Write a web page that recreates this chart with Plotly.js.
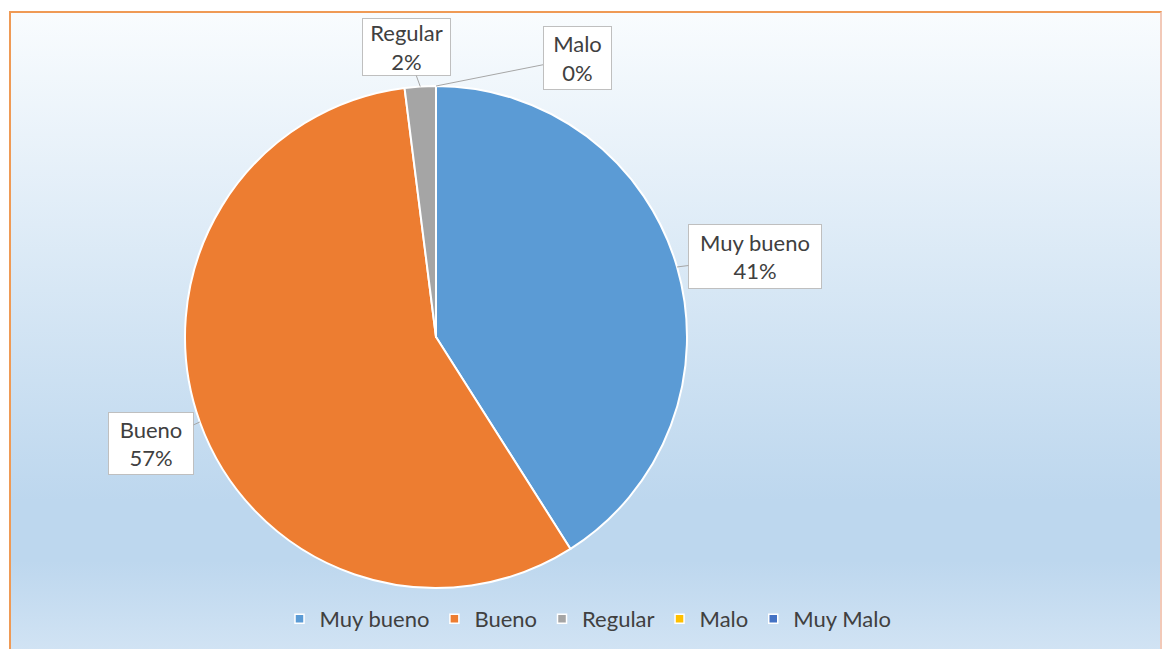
<!DOCTYPE html>
<html>
<head>
<meta charset="utf-8">
<script src="https://cdn.plot.ly/plotly-3.0.1.min.js"></script>
<style>
  html, body { margin: 0; padding: 0; background: #ffffff; width: 1163px; height: 649px; overflow: hidden; }
  #bg { position: absolute; left: 9px; top: 11px; width: 1149px; height: 660px;
        border: 2px solid #ef9a55; border-right-color: #f2c9b8;
        background: linear-gradient(to bottom, #f9fcfe 0%, #bdd7ee 74%, #bdd7ee 83%, #d6e6f5 100%); }
  #chart { position: absolute; left: 0; top: 0; width: 1163px; height: 649px; }
</style>
</head>
<body>
<div id="bg"></div>
<div id="chart"></div>
<script>
// ---- data ----
const categories = ["Muy bueno", "Bueno", "Regular", "Malo", "Muy Malo"];
const values = [41, 57, 2, 0, 0];
const colors = ["#5b9bd5", "#ed7d31", "#a5a5a5", "#ffc000", "#4472c4"];
// label box centres (pixels) for the data-label callouts shown in the chart
const labelShown = ["Muy bueno", "Bueno", "Regular", "Malo"];
const labelBoxCenter = [[755, 257], [151, 444], [406, 47], [577, 58]];
const labelBoxSize = [[134, 65], [86, 63], [89, 58], [69, 64]];

// ---- geometry ----
const W = 1163, H = 649;
const mt = 86, mb = 61;
const plotH = H - mt - mb;
const cxPx = 436;
const R = plotH / 2;
const domainX = [(cxPx - R) / W, (cxPx + R) / W];
const cyPx = mt + plotH / 2;

const total = values.reduce((a, b) => a + b, 0);
const font = "Lato, 'Open Sans', sans-serif";

const annotations = labelShown.map((lab, k) => {
  const i = categories.indexOf(lab);
  let before = 0;
  for (let j = 0; j < i; j++) before += values[j];
  const mid = (before + values[i] / 2) / total;
  const ang = mid * 2 * Math.PI;
  const px = cxPx + R * Math.sin(ang);
  const py = cyPx - R * Math.cos(ang);
  const pct = Math.round(values[i] / total * 100);
  return {
    xref: "paper", yref: "paper",
    x: px / W, y: (H - mb - py) / plotH,
    ax: labelBoxCenter[k][0] - px, ay: labelBoxCenter[k][1] - py,
    text: lab + "<br>" + pct + "%",
    showarrow: true, arrowhead: 0, arrowwidth: 1, arrowcolor: "#a6a6a6", standoff: 0,
    bgcolor: "#ffffff", bordercolor: "#bfbfbf", borderwidth: 1, borderpad: 3,
    width: labelBoxSize[k][0] - 8, height: labelBoxSize[k][1] - 8,
    font: { family: font, size: 22, color: "#404040" },
    align: "center", valign: "middle"
  };
});

const trace = {
  type: "pie",
  labels: categories,
  values: values,
  sort: false,
  direction: "clockwise",
  rotation: 0,
  textinfo: "none",
  hoverinfo: "label+percent",
  marker: { colors: colors, line: { color: "#ffffff", width: 2 } },
  domain: { x: domainX, y: [0, 1] },
  automargin: false,
  showlegend: true
};

const layout = {
  width: W, height: H,
  margin: { l: 0, r: 0, t: mt, b: mb },
  paper_bgcolor: "rgba(0,0,0,0)",
  plot_bgcolor: "rgba(0,0,0,0)",
  showlegend: true,
  legend: {
    orientation: "h", x: 588 / W, xanchor: "center",
    y: (H - mb - 619) / plotH, yanchor: "middle",
    bgcolor: "rgba(0,0,0,0)",
    font: { family: font, size: 22, color: "#404040" },
    traceorder: "normal"
  },
  annotations: annotations
};

Plotly.newPlot("chart", [trace], layout, { displayModeBar: false, staticPlot: true }).then(() => {
  document.querySelectorAll(".legendpoints path").forEach(p => {
    const t = p.getAttribute("transform") || "";
    p.setAttribute("transform", t + " scale(0.75)");
  });
});
</script>
</body>
</html>
